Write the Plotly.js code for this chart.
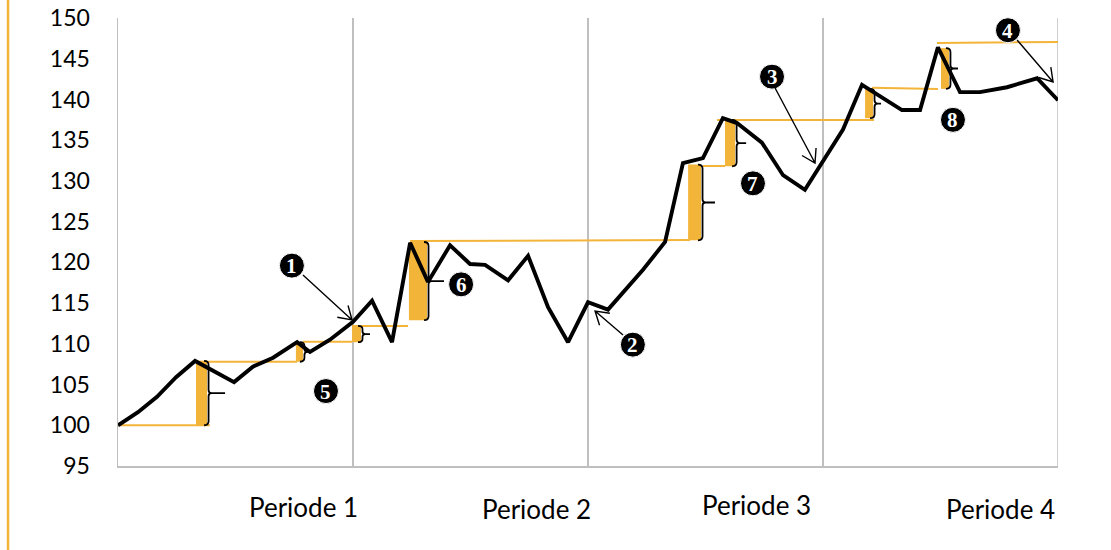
<!DOCTYPE html>
<html>
<head>
<meta charset="utf-8">
<script src="https://cdn.plot.ly/plotly-3.0.1.min.js"></script>
<style>html,body{margin:0;padding:0;background:#fff;}#chart{width:1111px;height:550px;}</style>
</head>
<body>
<div id="chart"></div>
<script>
// ---- Data ----
const lineX = [0, 0.085, 0.166, 0.247, 0.328, 0.494, 0.574, 0.660, 0.762, 0.817, 0.902, 1.0,
  1.081, 1.166, 1.243, 1.319, 1.413, 1.498, 1.562, 1.660, 1.745, 1.830, 1.915, 2.0,
  2.085, 2.234, 2.328, 2.404, 2.489, 2.574, 2.634, 2.740, 2.830, 2.923, 3.085, 3.166,
  3.336, 3.413, 3.489, 3.583, 3.668, 3.783, 3.911, 4.0];
const lineY = [100, 101.6, 103.5, 105.9, 107.9, 105.3, 107.2, 108.3, 110.2, 109.0, 110.5, 112.7,
  115.3, 110.2, 122.4, 117.6, 122.1, 119.8, 119.7, 117.8, 120.8, 114.5, 110.2, 115.1,
  114.2, 119.1, 122.5, 132.2, 132.8, 137.7, 137.1, 134.7, 130.7, 128.9, 136.3, 141.8,
  138.7, 138.7, 146.4, 140.9, 140.9, 141.5, 142.6, 139.9];

// high-water-mark lines
const hwmX0 = [0, 0.328, 0.787, 0.996, 1.243, 2.489, 2.549, 3.209, 3.485];
const hwmX1 = [0.391, 0.762, 0.996, 1.234, 2.434, 2.583, 3.217, 3.489, 4.0];
const hwmY0 = [100, 107.8, 110.25, 112.2, 122.62, 131.83, 137.48, 141.44, 146.93];
const hwmY1 = [100, 107.8, 110.25, 112.2, 122.75, 131.83, 137.48, 141.29, 147.06];

// gain bars
const barX0 = [0.332, 0.757, 0.996, 1.238, 2.426, 2.583, 3.179, 3.502];
const barX1 = [0.379, 0.787, 1.034, 1.315, 2.481, 2.626, 3.213, 3.536];
const barLow = [100, 107.8, 110.2, 112.9, 122.7, 131.8, 137.7, 141.3];
const barHigh = [107.9, 110.2, 112.2, 122.5, 132.0, 137.5, 141.3, 146.3];

// numbered markers
const markerText = ['1','2','3','4','5','6','7','8'];
const markerX = [0.740, 2.191, 2.783, 3.787, 0.885, 1.460, 2.702, 3.553];
const markerY = [119.6, 109.9, 142.8, 148.5, 104.2, 117.3, 129.7, 137.5];

// arrows (tail -> tip)
const arrowTailX = [0.787, 2.149, 2.796, 3.826];
const arrowTailY = [118.45, 111.08, 141.41, 147.30];
const arrowTipX = [0.996, 2.030, 2.966, 3.979];
const arrowTipY = [112.93, 114.03, 132.20, 142.15];

// axis labels
const yTicks = [95, 100, 105, 110, 115, 120, 125, 130, 135, 140, 145, 150];
const periodLabels = ['Periode 1', 'Periode 2', 'Periode 3', 'Periode 4'];

// ---- Layout helpers ----
const ORANGE = '#F3B43A';
const GRID = '#BFBFBF';
const W = 1111, H = 550, ML = 118, MR = 53, MT = 18, MB = 84;
const XR = [0, 4], YR = [95, 150];
const PX = (W - ML - MR) / (XR[1] - XR[0]);
const PY = (H - MT - MB) / (YR[1] - YR[0]);
const dx = p => p / PX, dy = p => p / PY;

const braceTip = [18, 9, 9, 17, 14, 11, 8, 9];
const periodPos = [[0.791, -0.0915], [1.779, -0.096], [2.719, -0.087], [3.757, -0.096]];

const shapes = [];
// left orange border
shapes.push({type: 'line', xref: 'paper', yref: 'paper', x0: -0.117, x1: -0.117, y0: -0.2, y1: 1.05,
  line: {color: ORANGE, width: 2.5}});
// right gridline (ensure drawn)
shapes.push({type: 'line', xref: 'x', yref: 'paper', x0: 4, x1: 4, y0: 0, y1: 1, layer: 'between',
  line: {color: GRID, width: 1.5}});

for (let i = 0; i < hwmX0.length; i++) {
  shapes.push({type: 'line', xref: 'x', yref: 'y', layer: 'between',
    x0: hwmX0[i], x1: hwmX1[i], y0: hwmY0[i], y1: hwmY1[i], line: {color: ORANGE, width: 2}});
}
const f = v => v.toFixed(5);
for (let i = 0; i < barX0.length; i++) {
  shapes.push({type: 'rect', xref: 'x', yref: 'y', layer: 'between',
    x0: barX0[i], x1: barX1[i], y0: barLow[i], y1: barHigh[i], fillcolor: ORANGE, line: {width: 0}});
  const xr = barX1[i], t = barHigh[i], b = barLow[i], m = (t + b) / 2;
  const r = Math.min(4, (t - b) * PY / 5);
  const e = xr + dx(1.5);
  const path =
    `M ${f(xr - dx(3))},${f(t)} Q ${f(e)},${f(t)} ${f(e)},${f(t - dy(r))} ` +
    `L ${f(e)},${f(m + dy(r * 0.8))} Q ${f(e)},${f(m)} ${f(e + dx(3))},${f(m)} ` +
    `L ${f(xr + dx(braceTip[i]))},${f(m)} M ${f(e + dx(3))},${f(m)} ` +
    `Q ${f(e)},${f(m)} ${f(e)},${f(m - dy(r * 0.8))} L ${f(e)},${f(b + dy(r))} ` +
    `Q ${f(e)},${f(b)} ${f(xr - dx(3))},${f(b)}`;
  shapes.push({type: 'path', xref: 'x', yref: 'y', layer: 'above', path: path,
    line: {color: '#000', width: 1.8}});
}
// arrows
const HEAD = 15, ANG = 32 * Math.PI / 180;
for (let i = 0; i < arrowTipX.length; i++) {
  const tx = arrowTailX[i], ty = arrowTailY[i], hx = arrowTipX[i], hy = arrowTipY[i];
  const vx = (hx - tx) * PX, vy = -(hy - ty) * PY;
  const back = Math.atan2(vy, vx) + Math.PI;
  const h1x = hx + Math.cos(back + ANG) * HEAD / PX, h1y = hy - Math.sin(back + ANG) * HEAD / PY;
  const h2x = hx + Math.cos(back - ANG) * HEAD / PX, h2y = hy - Math.sin(back - ANG) * HEAD / PY;
  shapes.push({type: 'path', xref: 'x', yref: 'y', layer: 'above',
    path: `M ${f(tx)},${f(ty)} L ${f(hx)},${f(hy)} M ${f(h1x)},${f(h1y)} L ${f(hx)},${f(hy)} L ${f(h2x)},${f(h2y)}`,
    line: {color: '#000', width: 1.4}});
}

const annotations = periodLabels.map((t, i) => ({
  text: t, xref: 'x', yref: 'paper', x: periodPos[i][0], y: periodPos[i][1],
  xanchor: 'center', yanchor: 'middle', showarrow: false,
  font: {family: 'Lato, "Open Sans", sans-serif', size: 26, color: '#000'}
}));
markerText.forEach((t, i) => annotations.push({
  text: '<b>' + t + '</b>', xref: 'x', yref: 'y', x: markerX[i], y: markerY[i] - dy(0.5),
  xanchor: 'center', yanchor: 'middle', showarrow: false,
  font: {family: '"Liberation Serif", "DejaVu Serif", serif', size: 21, color: '#fff'}
}));

const traces = [
  {x: lineX, y: lineY, type: 'scatter', mode: 'lines', hoverinfo: 'skip',
   line: {color: '#000', width: 3.9, shape: 'linear'}},
  {x: markerX, y: markerY, type: 'scatter', mode: 'markers', hoverinfo: 'skip', cliponaxis: false,
   marker: {size: 25, color: '#000', line: {color: '#fff', width: 1}}}
];

const layout = {
  width: W, height: H, margin: {l: ML, r: MR, t: MT, b: MB},
  paper_bgcolor: '#fff', plot_bgcolor: '#fff', showlegend: false,
  font: {family: 'Lato, "Open Sans", sans-serif', color: '#000'},
  xaxis: {range: XR, dtick: 1, tick0: 0, showgrid: true, gridcolor: GRID, gridwidth: 1.5,
    showline: true, linecolor: GRID, linewidth: 1.5, zeroline: false, showticklabels: false, ticks: ''},
  yaxis: {range: YR, tickvals: yTicks, ticktext: yTicks.map(String), showgrid: false, zeroline: false,
    showline: true, linecolor: GRID, linewidth: 1.5, ticks: 'outside', ticklen: 22, tickcolor: 'rgba(0,0,0,0)',
    tickfont: {family: 'Lato, "Open Sans", sans-serif', size: 23, color: '#000'}},
  shapes: shapes, annotations: annotations
};

Plotly.newPlot('chart', traces, layout, {displayModeBar: false, staticPlot: true});
</script>
</body>
</html>
